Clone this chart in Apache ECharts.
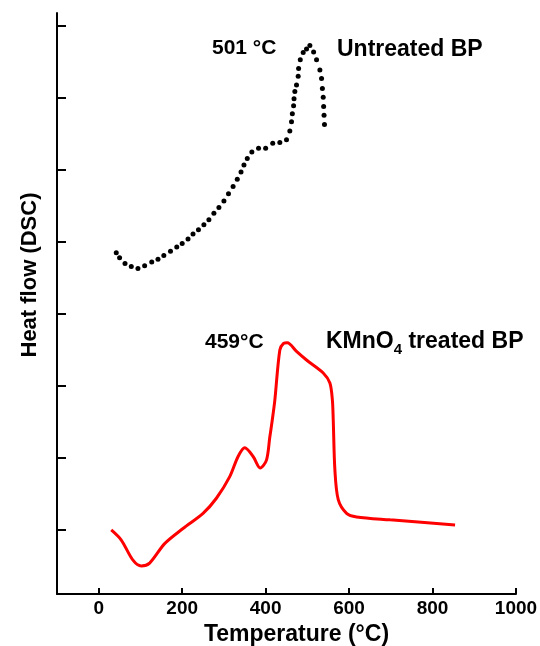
<!DOCTYPE html>
<html>
<head>
<meta charset="utf-8">
<script src="https://cdn.jsdelivr.net/npm/echarts@6/dist/echarts.min.js"></script>
<style>
  html, body { margin: 0; padding: 0; background: #fff; }
  #chart { width: 540px; height: 646px; }
</style>
</head>
<body>
<div id="chart"></div>
<script>
// temperature (°C), heat flow (arbitrary units, one tick = 1)
var untreatedBP = [
  [42, 3.85], [50, 3.78], [63, 3.70], [78, 3.66], [94, 3.63], [110, 3.67],
  [127, 3.72], [142, 3.76], [156, 3.81], [172, 3.87], [187, 3.93], [200, 3.98],
  [214, 4.04], [226, 4.11], [239, 4.17], [252, 4.24], [264, 4.31], [276, 4.40],
  [288, 4.48], [300, 4.57], [311, 4.67], [322, 4.77], [332, 4.87], [341, 4.97],
  [348, 5.07], [356, 5.16], [367, 5.25], [383, 5.30], [400, 5.30], [417, 5.37],
  [434, 5.38], [450, 5.42], [458, 5.54], [462, 5.67], [464, 5.78], [467, 5.89],
  [468, 5.99], [470, 6.09], [474, 6.18], [478, 6.30], [479, 6.41], [483, 6.53],
  [490, 6.63], [498, 6.68], [506, 6.73], [515, 6.64], [522, 6.53], [530, 6.39],
  [534, 6.27], [536, 6.13], [538, 6.01], [539, 5.88], [540, 5.76], [541, 5.63]
];
var kmno4BP = [
  [30, 0.00], [54, -0.14], [82, -0.42], [102, -0.50], [122, -0.46], [158, -0.19],
  [202, 0.02], [250, 0.23], [282, 0.44], [314, 0.74], [334, 1.02], [350, 1.14],
  [370, 1.02], [387, 0.86], [402, 0.97], [410, 1.29], [416, 1.53], [422, 1.80],
  [434, 2.50], [443, 2.59], [452, 2.60], [474, 2.48], [498, 2.36], [538, 2.18],
  [554, 2.04], [560, 1.80], [562, 1.53], [566, 0.83], [574, 0.42], [594, 0.23],
  [618, 0.18], [698, 0.14], [854, 0.07]
];
var xTicks = [0, 200, 400, 600, 800, 1000];
var yTicks = [0, 1, 2, 3, 4, 5, 6, 7];

var chart = echarts.init(document.getElementById('chart'));
var fontFam = '"Liberation Sans", Arial, sans-serif';

chart.setOption({
  backgroundColor: '#fff',
  animation: false,
  grid: { left: 57, right: 24, top: 13, bottom: 52, outerBoundsMode: 'none', containLabel: false },
  xAxis: {
    type: 'value',
    min: -100,
    max: 1000,
    name: 'Temperature (°C)',
    nameLocation: 'middle',
    nameGap: 28,
    nameTextStyle: {
      color: '#000', fontSize: 23, fontWeight: 'bold', fontFamily: fontFam,
      padding: [0, 0, 0, 20]
    },
    splitLine: { show: false },
    axisLine: { onZero: false, lineStyle: { color: '#000', width: 2 } },
    axisTick: { inside: true, length: 6, lineStyle: { color: '#000', width: 2 }, customValues: xTicks },
    axisLabel: {
      color: '#000', fontSize: 19, fontWeight: 'bold', fontFamily: fontFam,
      margin: 5, customValues: xTicks,
      formatter: function (v) { return String(v); }
    }
  },
  yAxis: {
    type: 'value',
    min: -0.89,
    max: 7.18,
    splitLine: { show: false },
    axisLine: { show: true, onZero: false, lineStyle: { color: '#000', width: 2 } },
    axisTick: { show: true, inside: true, length: 9, lineStyle: { color: '#000', width: 2 }, customValues: yTicks },
    axisLabel: { show: false }
  },
  graphic: [
    {
      type: 'text', x: 30, y: 275, rotation: Math.PI / 2,
      style: {
        text: 'Heat flow (DSC)', fill: '#000',
        font: 'bold 22px ' + fontFam,
        align: 'center', verticalAlign: 'middle',
        textAlign: 'center', textVerticalAlign: 'middle'
      }
    },
    {
      type: 'text', x: 212, y: 48,
      style: {
        text: '501 °C', fill: '#000', font: 'bold 21px ' + fontFam,
        align: 'left', verticalAlign: 'middle', textAlign: 'left', textVerticalAlign: 'middle'
      }
    },
    {
      type: 'text', x: 337, y: 50,
      style: {
        text: 'Untreated BP', fill: '#000', font: 'bold 23px ' + fontFam,
        align: 'left', verticalAlign: 'middle', textAlign: 'left', textVerticalAlign: 'middle'
      }
    },
    {
      type: 'text', x: 205, y: 342,
      style: {
        text: '459°C', fill: '#000', font: 'bold 21px ' + fontFam,
        align: 'left', verticalAlign: 'middle', textAlign: 'left', textVerticalAlign: 'middle'
      }
    },
    {
      type: 'text', x: 326, y: 342,
      style: {
        text: '{a|KMnO}{s|4}{a| treated BP}', fill: '#000',
        font: 'bold 23px ' + fontFam,
        align: 'left', verticalAlign: 'middle', textAlign: 'left', textVerticalAlign: 'middle',
        rich: {
          a: { fontSize: 23, fontWeight: 'bold', fontFamily: fontFam, lineHeight: 30, verticalAlign: 'middle', fill: '#000' },
          s: { fontSize: 15, fontWeight: 'bold', fontFamily: fontFam, lineHeight: 30, verticalAlign: 'bottom', fill: '#000' }
        }
      }
    }
  ],
  series: [
    {
      name: 'Untreated BP',
      type: 'scatter',
      symbol: 'circle',
      symbolSize: 5,
      itemStyle: { color: '#000', opacity: 1 },
      data: untreatedBP
    },
    {
      name: 'KMnO4 treated BP',
      type: 'line',
      smooth: 0.3,
      showSymbol: false,
      lineStyle: { color: '#ff0000', width: 3 },
      data: kmno4BP
    }
  ]
});
</script>
</body>
</html>
